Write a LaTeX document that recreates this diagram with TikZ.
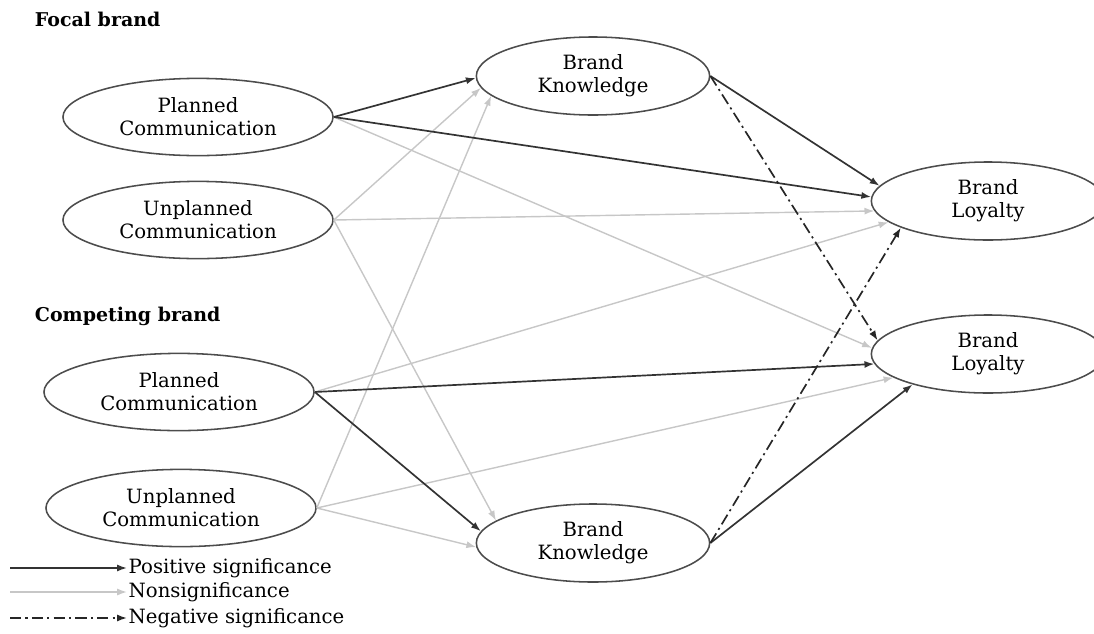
\documentclass[tikz,border=0pt]{standalone}
\usepackage{fontspec}
\setmainfont{DejaVu Serif}
\usetikzlibrary{arrows.meta,shapes.geometric}

\begin{document}
\begin{tikzpicture}[x=0.025cm,y=-0.025cm,
	construct/.style={ellipse,draw=black!70,line width=1.1pt,align=center,
		inner sep=0pt,font=\fontsize{14}{16.5}\selectfont},
	comm/.style={construct,minimum width=6.75cm,minimum height=1.93cm},
	brand/.style={construct,minimum width=5.83cm,minimum height=1.95cm},
	group/.style={anchor=west,font=\fontsize{13.5}{16}\selectfont\bfseries},
	legend/.style={anchor=west,inner sep=1pt,font=\fontsize{14}{16}\selectfont},
	posline/.style={draw=black!80,line width=1.2pt,-{Latex[length=7pt,width=5pt]}},
	nonsline/.style={draw=black!22,line width=1pt,-{Latex[length=7pt,width=5pt]}},
	negline/.style={draw=black!85,line width=1.2pt,
		dash pattern=on 8pt off 3pt on 1.5pt off 3pt,-{Latex[length=7pt,width=5pt]}}]
\useasboundingbox (0,0) rectangle (1094,633);
%				\draw[step=50,help lines] (0,0) grid (1094,633);
% groups
				\node[group] (focal) at (30,19) {Focal brand};
				\node[group] (compet) at (30,316) {Competing brand};
% constructs
				\node[comm] (pcF) at (198,117) {Planned\\Communication};
				\node[comm] (ucF) at (198,220) {Unplanned\\Communication};
				\node[comm] (pcC) at (179,392) {Planned\\Communication};
				\node[comm] (ucC) at (181,508) {Unplanned\\Communication};
				\node[brand] (bkF) at (593,76) {Brand\\Knowledge};
				\node[brand] (bkC) at (593,543) {Brand\\Knowledge};
				\node[brand] (blF) at (988,201) {Brand\\Loyalty};
				\node[brand] (blC) at (988,354) {Brand\\Loyalty};
% nonsignificant paths
				\foreach \a/\b in {pcF/blC.177,ucF/bkF.186,ucF/blF.185,ucF/bkC.167,
					pcC/blF.192,ucC/bkF.191,ucC/blC.194,ucC/bkC.182}
				\draw[nonsline] (\a.east) -- (\b);
% positive paths
				\foreach \a/\b in {pcF/bkF.181,pcF/blF.178,pcC/blC.185,pcC/bkC.174,
					bkF/blF.172,bkC/blC.202}
				\draw[posline] (\a.east) -- (\b);
% negative paths
				\draw[negline] (bkF.east) -- (blC.173);
				\draw[negline] (bkC.east) -- (blF.197);
% legend
				\node[legend] (lgpos) at (127,568) {Positive significance};
				\node[legend] (lgnons) at (127,592) {Nonsignificance};
				\node[legend] (lgneg) at (127,618) {Negative significance};
				\coordinate (lpos) at (10,568);
				\coordinate (lnons) at (10,592);
				\coordinate (lneg) at (10,618);
				\draw[posline] (lpos) -- (lgpos.west);
				\draw[nonsline] (lnons) -- (lgnons.west);
				\draw[negline] (lneg) -- (lgneg.west);
\end{tikzpicture}
\end{document}
